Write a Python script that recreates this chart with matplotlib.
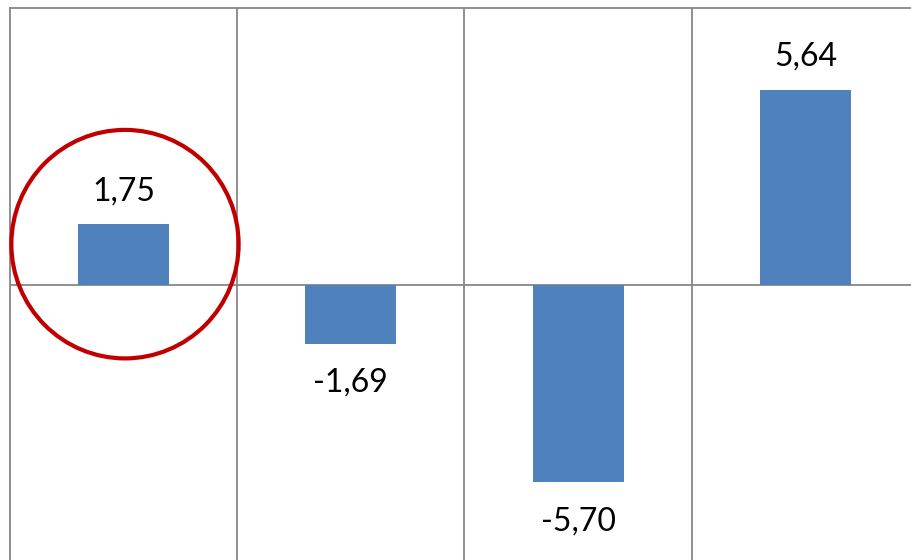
"""Bar chart of four changes with a highlighted first bar."""

import matplotlib.pyplot as plt
from matplotlib.patches import Ellipse

categories = ["A", "B", "C", "D"]
values = [1.75, -1.69, -5.70, 5.64]
labels = ["1,75", "-1,69", "-5,70", "5,64"]

BAR_COLOR = "#4F81BD"
GRID_COLOR = "#878787"

plt.rcParams["font.family"] = ["Lato", "DejaVu Sans"]

fig = plt.figure(figsize=(9.12, 5.6), dpi=100)
# plot area runs a little past the right and bottom edges of the picture
ax = fig.add_axes([10 / 912, -2 / 560, 909 / 912, 554 / 560])

xs = range(len(values))
ax.bar(xs, values, width=0.4, color=BAR_COLOR, zorder=3)

ax.set_xlim(-0.5, len(values) - 0.5)
ax.set_ylim(-8, 8)

for x in [i + 0.5 for i in range(len(values))]:
    ax.axvline(x, color=GRID_COLOR, lw=1.3, zorder=1)
ax.axhline(0, color=GRID_COLOR, lw=1.3, zorder=2)

for spine in ax.spines.values():
    spine.set_visible(False)
for side in ["left", "top"]:
    ax.spines[side].set_visible(True)
    ax.spines[side].set_color(GRID_COLOR)
    ax.spines[side].set_linewidth(1.3)
ax.set_xticks([])
ax.set_yticks([])

for x, v, lab in zip(xs, values, labels):
    off = 33 if v > 0 else -39
    ax.annotate(lab, (x, v), xytext=(0, off), textcoords="offset pixels",
                ha="center", va="center", fontsize=23, color="black", zorder=4)

ax.add_patch(Ellipse((0.006, 1.18), width=1.0, height=6.6, fill=False,
                     edgecolor="#C00000", lw=3, zorder=5, clip_on=False))

fig.savefig("out.png", dpi=100)
